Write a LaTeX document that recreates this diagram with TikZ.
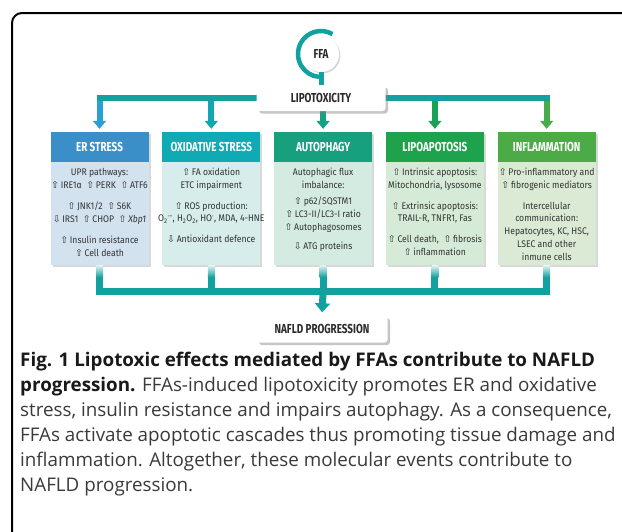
\documentclass[tikz,border=0pt]{standalone}
\usepackage{fontspec}
\setmainfont{Open Sans}
\newfontfamily\condfont[FakeStretch=0.9]{Fira Sans}
\newfontfamily\headfont[FakeStretch=0.76]{Fira Sans}
\newfontfamily\symfont{DejaVu Sans}
\usetikzlibrary{arrows.meta,positioning,shadows,calc}

\definecolor{connteal}{HTML}{13A19F}
\definecolor{erhead}{HTML}{3A8FC9}\definecolor{erbody}{HTML}{D3E2EF}
\definecolor{oxhead}{HTML}{10AAB4}\definecolor{oxbody}{HTML}{D6EDEB}
\definecolor{authead}{HTML}{16A07D}\definecolor{autbody}{HTML}{D4EBE1}
\definecolor{lipohead}{HTML}{1EA24C}\definecolor{lipobody}{HTML}{D6EBD7}
\definecolor{inflhead}{HTML}{4CAB46}\definecolor{inflbody}{HTML}{DAEAD4}
\definecolor{erarrow}{HTML}{2C9FD3}\definecolor{oxarrow}{HTML}{11A7B2}
\definecolor{autarrow}{HTML}{14A184}\definecolor{lipoarrow}{HTML}{1BA155}
\definecolor{inflarrow}{HTML}{48AC4A}
\definecolor{bodytext}{HTML}{333333}
\definecolor{labeltext}{HTML}{2B2B2B}
\definecolor{captext}{HTML}{3A3A3A}

\newcommand{\upar}{{\symfont\fontsize{9.5}{9.5}\selectfont ⇧}\,}
\newcommand{\dnar}{{\symfont\fontsize{9.5}{9.5}\selectfont ⇩}\,}

\begin{document}
\begin{tikzpicture}[
    x=1pt,y=1pt,
    card/.style={minimum width=98pt,minimum height=133pt,inner sep=0pt,
                 drop shadow={opacity=.3,shadow xshift=2pt,shadow yshift=-2pt}},
    head/.style={minimum width=98pt,minimum height=30pt,inner sep=0pt,text=white,
                 font=\headfont\bfseries\fontsize{13}{14}\selectfont},
    body/.style={align=center,inner sep=0pt,text=bodytext,
                 font=\condfont\fontsize{9.6}{12.7}\selectfont},
    tagbox/.style={fill=white,rounded corners=3pt,minimum width=129pt,
                   minimum height=26pt,text=labeltext,
                   font=\headfont\bfseries\fontsize{13}{14}\selectfont,
                   drop shadow={opacity=.45,shadow xshift=2.5pt,shadow yshift=-2.5pt}},
    conn/.style={draw=connteal,line width=6pt},
    drop/.style={line width=6pt,shorten <=3pt,shorten >=3pt,
                 -{Triangle[width=13pt,length=8pt]}}
  ]
    \useasboundingbox (0,0) rectangle (622,-531);
    \fill[white] (0,0) rectangle (622,-531);
    % outer frame
    \draw[line width=2pt,rounded corners=10pt] (12,-560) -- (12,-13) -- (650,-13);

    % the five cards
    \node[card,fill=erbody] (er) at (99.5,-198.5) {};
    \node[card,fill=oxbody,right=13.4pt of er] (ox) {};
    \node[card,fill=autbody,right=13.4pt of ox] (aut) {};
    \node[card,fill=lipobody,right=13.4pt of aut] (lipo) {};
    \node[card,fill=inflbody,right=13.4pt of lipo] (infl) {};

    \node[head,fill=erhead,anchor=north] (erh) at (er.north) {ER STRESS};
    \node[head,fill=oxhead,anchor=north] (oxh) at (ox.north) {OXIDATIVE STRESS};
    \node[head,fill=authead,anchor=north] (auth) at (aut.north) {AUTOPHAGY};
    \node[head,fill=lipohead,anchor=north] (lipoh) at (lipo.north) {LIPOAPOTOSIS};
    \node[head,fill=inflhead,anchor=north] (inflh) at (infl.north) {INFLAMMATION};

    \node[body,anchor=north,yshift=-6pt] (ert) at (erh.south)
          {UPR pathways:\\
           \upar IRE1α\ \ \upar PERK\ \ \upar ATF6\\[9pt]
           \upar JNK1/2\ \ \upar S6K\\
           \dnar IRS1\ \ \upar CHOP\ \ \upar\textit{Xbp1}\\[8pt]
           \upar Insulin resistance\\
           \upar Cell death};
    \node[body,anchor=north,yshift=-6pt] (oxt) at (oxh.south)
          {\upar FA oxidation\\
           ETC impairment\\[8pt]
           \upar ROS production:\\
           O\textsubscript{2}\textsuperscript{·–}, H\textsubscript{2}O\textsubscript{2}, HO\textsuperscript{·}, MDA, 4-HNE\\[8pt]
           \dnar Antioxidant defence};
    \node[body,anchor=north,yshift=-6pt] (autt) at (auth.south)
          {Autophagic flux\\
           imbalance:\\[3.5pt]
           \upar p62/SQSTM1\\
           \upar LC3-II/LC3-I ratio\\
           \upar Autophagosomes\\[7pt]
           \dnar ATG proteins};
    \node[body,anchor=north,yshift=-6pt] (lipot) at (lipoh.south)
          {\upar Intrinsic apoptosis:\\
           Mitochondria, lysosome\\[8pt]
           \upar Extrinsic apoptosis:\\
           TRAIL-R, TNFR1, Fas\\[8pt]
           \upar Cell death,\ \ \upar fibrosis\\
           \upar inflammation};
    \node[body,anchor=north,yshift=-6pt] (inflt) at (inflh.south)
          {\upar Pro-inflammatory and\\
           \upar fibrogenic mediators\\[8pt]
           Intercellular\\
           communication:\\
           Hepatocytes, KC, HSC,\\
           LSEC and other\\
           inmune cells};

    % lipotoxicity bar and arrows into the cards
    \coordinate (bar) at (321,-98);
    \draw[conn,line cap=rect] (er.north |- bar) -- (infl.north |- bar);
    \draw[drop,draw=erarrow,fill=erarrow] (er.north |- bar) -- (er.north);
    \draw[drop,draw=oxarrow,fill=oxarrow] (ox.north |- bar) -- (ox.north);
    \draw[drop,draw=autarrow,fill=autarrow] (aut.north |- bar) -- (aut.north);
    \draw[drop,draw=lipoarrow,fill=lipoarrow] (lipo.north |- bar) -- (lipo.north);
    \draw[drop,draw=inflarrow,fill=inflarrow] (infl.north |- bar) -- (infl.north);
    \node[tagbox] (lipotox) at (bar) {LIPOTOXICITY};

    % FFA source
    \node[circle,fill=white,minimum size=36pt,inner sep=0pt,text=labeltext,
          font=\headfont\bfseries\fontsize{13}{14}\selectfont,
          drop shadow={opacity=.3,shadow xshift=1.5pt,shadow yshift=-1.5pt}]
          (ffa) at (321,-54) {FFA};
    \draw[connteal,line width=4.5pt] ([shift={(60:23)}]ffa.center)
          arc[start angle=60,end angle=265,radius=23];
    \draw[conn,line width=5pt] (ffa.south) -- (lipotox.north);

    % collecting bar towards NAFLD
    \coordinate (bbar) at (322,-291);
    \draw[conn,line width=7pt,line join=miter] (er.south) -- (er.south |- bbar)
          -- (infl.south |- bbar) -- (infl.south);
    \draw[conn,line width=7pt] (ox.south) -- (ox.south |- bbar);
    \draw[conn,line width=7pt] (aut.south) -- (aut.south |- bbar);
    \draw[conn,line width=7pt] (lipo.south) -- (lipo.south |- bbar);
    \foreach \b in {er,ox,aut,lipo,infl}
      \shade[top color=connteal!12,bottom color=connteal]
            ($(\b.south)+(-3.5,0)$) rectangle ($(\b.south)+(3.5,-12)$);
    \node[tagbox,minimum width=131pt,minimum height=27pt] (nafld) at (322,-329)
          {NAFLD PROGRESSION};
    \draw[conn,line width=7pt,shorten >=3pt,-{Triangle[width=15pt,length=9pt]}]
          (aut.south |- bbar) -- (nafld.north);

    % caption
    \node[anchor=north west,align=left,inner sep=0pt,text=captext,
          font=\fontsize{18.8}{25}\selectfont] (caption) at (20,-352)
          {\textbf{\color{black!90}Fig. 1 Lipotoxic effects mediated by FFAs contribute to NAFLD}\\
           \textbf{\color{black!90}progression.} FFAs-induced lipotoxicity promotes ER and oxidative\\
           stress, insulin resistance and impairs autophagy. As a consequence,\\
           FFAs activate apoptotic cascades thus promoting tissue damage and\\
           inflammation. Altogether, these molecular events contribute to\\
           NAFLD progression.};
  \end{tikzpicture}
\end{document}
